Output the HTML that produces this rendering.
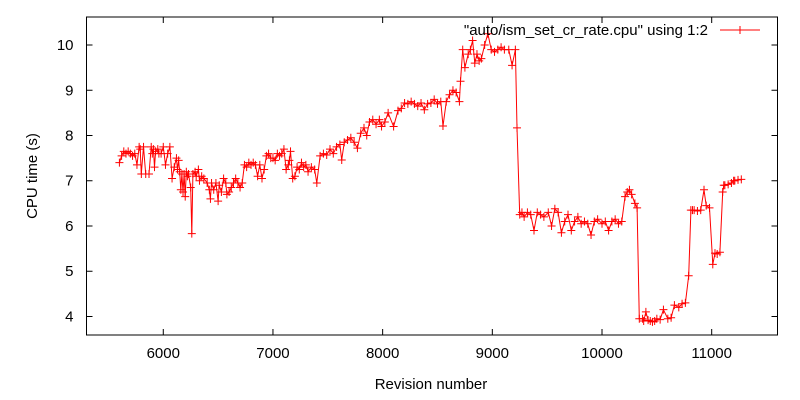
<!DOCTYPE html>
<html><head><meta charset="utf-8"><style>
body{margin:0;background:#fff}
svg{display:block;font-family:"Liberation Sans",sans-serif}
</style></head><body>
<svg id="chart" width="800" height="400" viewBox="0 0 800 400" xmlns="http://www.w3.org/2000/svg">
<rect width="800" height="400" fill="#fff"/>
<g id="axes"></g>
<g id="series"></g>
<text transform="translate(37,176) rotate(-90)" text-anchor="middle" font-size="15">CPU time (s)</text>
<text x="431" y="389" text-anchor="middle" font-size="15">Revision number</text>
<g>
<text x="708" y="35" text-anchor="end" font-size="15">"auto/ism_set_cr_rate.cpu" using 1:2</text>
<line x1="720" y1="30" x2="760" y2="30" stroke="#f00" stroke-width="1"/>
<path d="M736,30h8M740,26v8" stroke="#f00" stroke-width="1"/>
</g>
</svg>
<script>
const xTicks=[6000,7000,8000,9000,10000,11000];
const yTicks=[4,5,6,7,8,9,10];
const revisions=[5600,5620,5640,5660,5680,5700,5720,5740,5760,5780,5790,5800,5820,5840,5870,5890,5900,5910,5920,5930,5950,5960,5980,6000,6020,6040,6060,6080,6100,6120,6130,6140,6150,6160,6170,6180,6190,6200,6210,6220,6230,6250,6260,6270,6290,6300,6320,6330,6350,6370,6400,6420,6430,6440,6460,6480,6500,6510,6530,6550,6570,6580,6600,6620,6640,6660,6680,6700,6720,6740,6760,6780,6800,6820,6840,6860,6880,6900,6920,6940,6960,6980,7000,7020,7040,7060,7080,7100,7120,7140,7150,7160,7180,7200,7220,7240,7260,7280,7300,7320,7350,7380,7400,7430,7460,7490,7520,7550,7580,7610,7627,7650,7680,7710,7740,7770,7800,7830,7855,7880,7910,7940,7970,7990,8020,8050,8100,8140,8170,8200,8230,8260,8290,8320,8350,8380,8410,8440,8470,8500,8530,8550,8580,8610,8641,8670,8700,8710,8730,8750,8780,8800,8820,8840,8860,8880,8900,8930,8960,8990,9020,9050,9080,9110,9150,9180,9210,9225,9250,9270,9290,9320,9350,9380,9410,9440,9470,9510,9540,9570,9600,9630,9660,9690,9720,9750,9780,9810,9840,9870,9900,9930,9960,10000,10030,10060,10090,10120,10150,10180,10210,10230,10250,10270,10300,10320,10340,10370,10380,10400,10420,10440,10460,10480,10500,10530,10560,10600,10630,10660,10700,10730,10760,10790,10810,10825,10840,10870,10900,10930,10950,10980,11010,11030,11050,11075,11100,11110,11120,11150,11180,11200,11210,11240,11270,11300,11325];
const cpuTimes=[7.4,7.55,7.65,7.6,7.65,7.6,7.55,7.6,7.35,7.75,7.7,7.15,7.75,7.15,7.15,7.75,7.6,7.7,7.3,7.65,7.7,7.6,7.6,7.75,7.35,7.6,7.75,7.05,7.3,7.5,7.25,7.45,7.2,6.8,7.15,6.75,7.15,6.65,7.2,7.1,7.15,6.85,5.83,7.15,7.2,7.1,7.25,7.0,7.1,7.05,6.95,6.8,6.6,6.95,6.8,6.95,6.55,6.9,6.75,7.05,6.95,6.7,6.75,6.85,6.95,7.05,6.95,6.85,6.95,7.35,7.3,7.4,7.35,7.4,7.35,7.1,7.35,7.05,7.25,7.55,7.6,7.5,7.5,7.45,7.6,7.55,7.6,7.7,7.25,7.35,7.45,7.65,7.05,7.1,7.3,7.25,7.4,7.3,7.35,7.2,7.3,7.25,6.95,7.55,7.6,7.57,7.7,7.6,7.75,7.8,7.46,7.85,7.9,7.95,7.85,7.72,8.05,8.17,8.0,8.3,8.35,8.25,8.35,8.2,8.3,8.5,8.2,8.55,8.6,8.72,8.7,8.75,8.7,8.65,8.72,8.57,8.7,8.72,8.8,8.7,8.75,8.21,8.75,8.9,9.0,8.95,8.75,9.2,9.9,9.5,9.8,9.9,10.1,9.6,9.8,9.65,9.7,10.0,10.25,9.9,9.85,9.9,9.95,9.9,9.9,9.55,9.9,8.17,6.25,6.3,6.2,6.3,6.25,5.9,6.3,6.25,6.2,6.3,6.0,6.38,6.3,5.85,6.1,6.25,5.9,6.1,6.2,6.05,6.1,6.05,5.8,6.1,6.15,6.05,6.1,5.9,6.1,6.15,6.05,6.1,6.65,6.75,6.8,6.7,6.5,6.4,3.95,3.95,3.9,4.1,3.92,3.9,3.88,3.9,3.95,3.93,4.15,3.95,3.97,4.25,4.2,4.28,4.3,4.9,6.35,6.35,6.35,6.33,6.35,6.8,6.45,6.4,5.15,5.4,5.38,5.42,6.75,6.9,6.9,6.92,6.95,7.0,7.0,7.02,7.03];
const X0=5300,X1=11600,Y0=3.59,Y1=10.62;
const L=86.5,R=777.5,T=17,B=335;
const sx=v=>L+(v-X0)/(X1-X0)*(R-L);
const sy=v=>B-(v-Y0)/(Y1-Y0)*(B-T);
const NS='http://www.w3.org/2000/svg';
const axes=document.getElementById('axes');
function mk(tag,attrs,parent){const e=document.createElementNS(NS,tag);for(const k in attrs)e.setAttribute(k,attrs[k]);parent.appendChild(e);return e;}
const frame=mk('rect',{x:L,y:T,width:R-L,height:B-T,fill:'none',stroke:'#000','stroke-width':1},axes);


xTicks.forEach(t=>{const x=sx(t);
 mk('path',{d:`M${x},${B}v-6M${x},${T}v6`,stroke:'#000'},axes);
 const tx=mk('text',{x:x,y:B+23,'text-anchor':'middle','font-size':15},axes);tx.textContent=t;
 
 
});
yTicks.forEach(t=>{const y=sy(t);
 mk('path',{d:`M${L},${y}h6M${R},${y}h-6`,stroke:'#000'},axes);
 const tx=mk('text',{x:L-13,y:y+5,'text-anchor':'end','font-size':15},axes);tx.textContent=t;
 
 
});
const ser=document.getElementById('series');
let d='';revisions.forEach((r,i)=>{d+=(i?'L':'M')+sx(r).toFixed(1)+','+sy(cpuTimes[i]).toFixed(1);});
const line=mk('path',{d:d,fill:'none',stroke:'#f00','stroke-width':1},ser);


revisions.forEach((r,i)=>{const x=sx(r),y=sy(cpuTimes[i]);
 const p=mk('path',{d:`M${x-4},${y}h8M${x},${y-4}v8`,stroke:'#f00','stroke-width':1},ser);
 
 
});
</script>
</body></html>
